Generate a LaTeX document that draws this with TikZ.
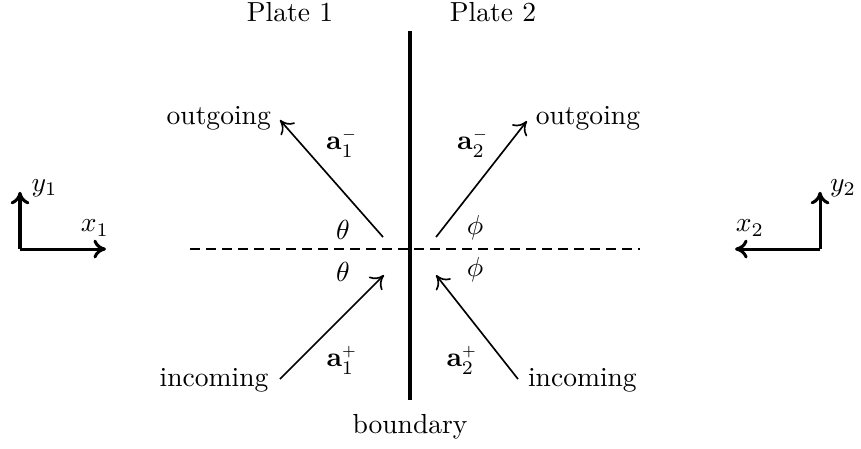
\documentclass[tikz,border=0pt]{standalone}
\usepackage{amsmath,amssymb}
\usepackage{tikz}
\usetikzlibrary{arrows.meta,positioning,calc}
\tikzset{
  wall/.style={line width=1.8pt},
  axis/.style={line width=1.1pt, -{To[length=1.6mm,width=2.4mm]}},
  ray/.style={line width=0.6pt, -{To[length=1.6mm,width=2.4mm]}},
  normal/.style={line width=0.6pt, dash pattern=on 3.6pt off 2.2pt},
  lbl/.style={inner sep=0.5pt},
}
\newcommand{\amp}[2]{$\mathbf{a}_{#1}^{\scriptscriptstyle #2}$}
\begin{document}
\begin{tikzpicture}
\useasboundingbox (-5.2275,-2.537) rectangle (5.750,3.175);
% boundary and normal
\coordinate (btop) at (0,2.78);
\coordinate (bbot) at (0,-1.925);
\coordinate (nl) at (-2.805,0);
\coordinate (nr) at (2.93,0);
\draw[wall] (btop) -- (bbot);
\draw[normal] (nl) -- (nr);
\node[lbl] (bnd) at (0,-2.27) {boundary};
\node[lbl] (p1) at (-1.53,3.02) {Plate 1};
\node[lbl] (p2) at (1.058,3.02) {Plate 2};
% coordinate frames
\coordinate (o1) at (-4.9725,0);
\coordinate (x1e) at (-3.876,0);
\coordinate (y1e) at (-4.9725,0.73);
\draw[axis] (o1) -- (x1e);
\draw[axis] (o1) -- (y1e);
\node[lbl] (x1) at (-4.016,0.268) {$x_1$};
\node[lbl] (y1) at (-4.66,0.78) {$y_1$};
\coordinate (o2) at (5.2275,0);
\coordinate (x2e) at (4.144,0);
\coordinate (y2e) at (5.2275,0.73);
\draw[axis] (o2) -- (x2e);
\draw[axis] (o2) -- (y2e);
\node[lbl] (x2) at (4.335,0.268) {$x_2$};
\node[lbl] (y2) at (5.52,0.78) {$y_2$};
% waves, plate 1
\coordinate (out1a) at (-0.344,0.153);
\coordinate (out1b) at (-1.658,1.645);
\coordinate (in1a) at (-1.658,-1.658);
\coordinate (in1b) at (-0.332,-0.332);
\draw[ray] (out1a) -- (out1b);
\draw[ray] (in1a) -- (in1b);
\node[lbl, anchor=east] (og1) at (-1.75,1.67) {outgoing};
\node[lbl, anchor=east] (ic1) at (-1.78,-1.67) {incoming};
\node[lbl] (am1) at (-0.867,1.351) {\amp{1}{-}};
\node[lbl] (ap1) at (-0.867,-1.415) {\amp{1}{+}};
\node[lbl] (th1) at (-0.854,0.242) {$\theta$};
\node[lbl] (th2) at (-0.854,-0.293) {$\theta$};
% waves, plate 2
\coordinate (out2a) at (0.332,0.153);
\coordinate (out2b) at (1.49,1.632);
\coordinate (in2a) at (1.377,-1.658);
\coordinate (in2b) at (0.332,-0.332);
\draw[ray] (out2a) -- (out2b);
\draw[ray] (in2a) -- (in2b);
\node[lbl, anchor=west] (og2) at (1.58,1.67) {outgoing};
\node[lbl, anchor=west] (ic2) at (1.48,-1.67) {incoming};
\node[lbl] (am2) at (0.803,1.351) {\amp{2}{-}};
\node[lbl] (ap2) at (0.663,-1.415) {\amp{2}{+}};
\node[lbl] (ph1) at (0.829,0.268) {$\phi$};
\node[lbl] (ph2) at (0.829,-0.268) {$\phi$};
\end{tikzpicture}
\end{document}
